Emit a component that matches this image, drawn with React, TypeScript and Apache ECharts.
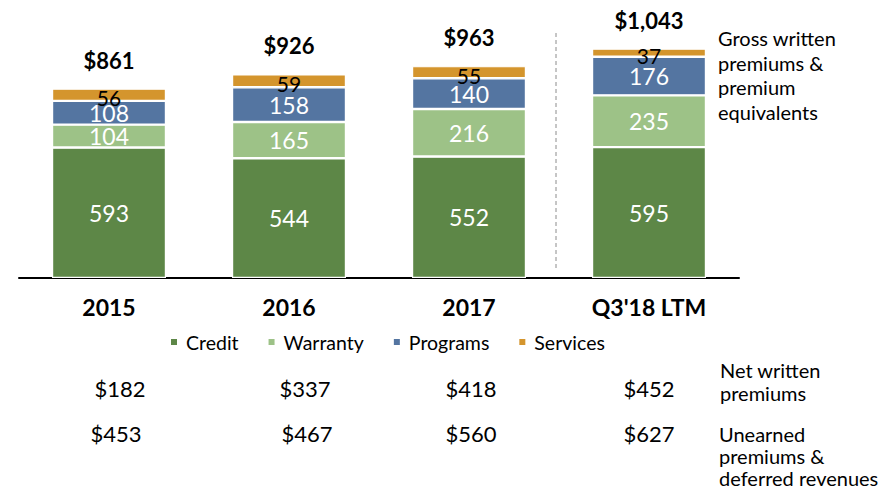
import React, { useEffect, useRef } from "react";
import * as echarts from "echarts";

const categories = ["2015", "2016", "2017", "Q3'18 LTM"];
const credit = [593, 544, 552, 595];
const warranty = [104, 165, 216, 235];
const programs = [108, 158, 140, 176];
const services = [56, 59, 55, 37];
const netWritten = [182, 337, 418, 452];
const unearned = [453, 467, 560, 627];

const totals = categories.map((_, i) => credit[i] + warranty[i] + programs[i] + services[i]);

const FONT = "Lato, 'Open Sans', sans-serif";
const COLORS = { credit: "#5D8747", warranty: "#9DC287", programs: "#5475A1", services: "#D4952D" };

const netX = [120, 305, 471, 649];
const unearnedX = [116, 307, 471, 649];

export default function App() {
  const ref = useRef<HTMLDivElement>(null);
  useEffect(() => {
    document.body.style.margin = "0";
    const chart = echarts.init(ref.current!, null, { renderer: "svg" });
    const inside = (color: string, size: number) => ({
      show: true,
      position: "inside" as const,
      color,
      fontSize: size,
      fontFamily: FONT,
    });
    const seg = (name: string, data: number[], color: string, label: any) => ({
      name,
      type: "bar" as const,
      stack: "gwp",
      data,
      barWidth: 114,
      itemStyle: { color, borderColor: "#fff", borderWidth: 1.2 },
      label,
    });
    const sideText = { fontSize: 20, fontFamily: FONT, fill: "#000" };
    const graphic: any[] = [
      {
        type: "line",
        shape: { x1: 556, y1: 33, x2: 556, y2: 268 },
        style: { stroke: "#8c8c8c", lineWidth: 1, lineDash: [4, 3] },
      },
      {
        type: "text",
        left: 718,
        top: 26,
        style: { ...sideText, text: "Gross written\npremiums &\npremium\nequivalents", lineHeight: 24.5 },
      },
      {
        type: "text",
        left: 720,
        top: 358,
        style: { ...sideText, text: "Net written\npremiums", lineHeight: 23 },
      },
      {
        type: "text",
        left: 719,
        top: 423,
        style: { ...sideText, text: "Unearned\npremiums &\ndeferred revenues", lineHeight: 22 },
      },
    ];
    const rowText = (v: number, x: number, y: number) => ({
      type: "text",
      x,
      y,
      style: { text: "$" + v, fontSize: 22, fontFamily: FONT, fill: "#000", align: "center", verticalAlign: "middle" },
    });
    netWritten.forEach((v, i) => graphic.push(rowText(v, netX[i], 388)));
    unearned.forEach((v, i) => graphic.push(rowText(v, unearnedX[i], 433)));
    chart.setOption({
      animation: false,
      grid: { left: 19, right: 144, top: 36, bottom: 211 },
      legend: {
        data: ["Credit", "Warranty", "Programs", "Services"],
        left: 164,
        top: 327,
        icon: "rect",
        itemWidth: 8,
        itemHeight: 8,
        itemGap: 28,
        textStyle: { fontSize: 19.5, fontFamily: FONT, color: "#000", padding: [0, 0, 0, 3] },
      },
      xAxis: {
        type: "category",
        data: categories,
        axisLine: { lineStyle: { color: "#000", width: 2 } },
        axisTick: { show: false },
        axisLabel: { fontSize: 23, fontWeight: "bold", fontFamily: FONT, color: "#000", margin: 17 },
      },
      yAxis: { type: "value", min: 0, max: 1100, show: false, splitLine: { show: false } },
      series: [
        seg("Credit", credit, COLORS.credit, inside("#fff", 23)),
        seg("Warranty", warranty, COLORS.warranty, inside("#fff", 23)),
        seg("Programs", programs, COLORS.programs, inside("#fff", 23)),
        seg("Services", services, COLORS.services, { ...inside("#000", 21), offset: [0, 3] }),
        {
          name: "Total",
          type: "line",
          data: totals,
          symbol: "circle",
          symbolSize: 1,
          itemStyle: { color: "rgba(0,0,0,0)" },
          lineStyle: { opacity: 0 },
          label: {
            show: true,
            position: "top",
            distance: 17,
            fontSize: 22,
            fontWeight: "bold",
            fontFamily: FONT,
            color: "#000",
            formatter: (p: any) => "$" + Number(p.value).toLocaleString("en-US"),
          },
          z: 10,
        },
      ],
      graphic,
    });
    return () => chart.dispose();
  }, []);
  return <div ref={ref} style={{ width: 883, height: 489 }} />;
}
